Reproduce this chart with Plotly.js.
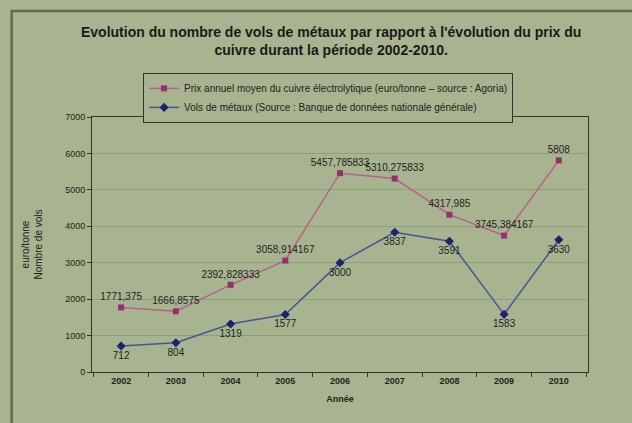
<!DOCTYPE html>
<html><head><meta charset="utf-8">
<script src="https://cdn.plot.ly/plotly-3.0.1.min.js"></script>
<style>html,body{margin:0;padding:0;background:#a7b48f;}#chart{width:632px;height:423px;}</style>
</head><body><div id="chart"></div>
<script>
const years = ['2002','2003','2004','2005','2006','2007','2008','2009','2010'];
const prixCuivre = [1771.375, 1666.8575, 2392.828333, 3058.914167, 5457.785833, 5310.275833, 4317.985, 3745.384167, 5808];
const prixLabels = ['1771,375','1666,8575','2392,828333','3058,914167','5457,785833','5310,275833','4317,985','3745,384167','5808'];
const vols = [712, 804, 1319, 1577, 3000, 3837, 3591, 1583, 3630];
const volsLabels = ['712','804','1319','1577','3000','3837','3591','1583','3630'];
const yTicks = [0,1000,2000,3000,4000,5000,6000,7000];

const font = '"Liberation Sans", Arial, sans-serif';
const traces = [
  {x: years, y: prixCuivre, type:'scatter', mode:'lines+markers+text',
   name:'Prix annuel moyen du cuivre électrolytique (euro/tonne – source : Agoria)',
   text: prixLabels, textposition:'top center', textfont:{family:font,size:10,color:'#222'},
   line:{color:'#b8608e', width:1.5}, marker:{symbol:'square', size:6, color:'#962f6c'}, cliponaxis:false},
  {x: years, y: vols, type:'scatter', mode:'lines+markers+text',
   name:'Vols de métaux (Source : Banque de données nationale générale)',
   text: volsLabels, textposition:'bottom center', textfont:{family:font,size:10,color:'#222'},
   line:{color:'#4a5294', width:1.5}, marker:{symbol:'diamond', size:7, color:'#1c226e'}, cliponaxis:false}
];
const layout = {
  width:632, height:423,
  margin:{l:92, r:44, t:117, b:51},
  paper_bgcolor:'#a7b48f', plot_bgcolor:'#a7b48f',
  font:{family:font, color:'#222'},
  title:{text:'<b>Evolution du nombre de vols de métaux par rapport à l\'évolution du prix du<br>cuivre durant la période 2002-2010.</b>',
         font:{family:font, size:14, color:'#1a1a1a'}, x:0.524, xanchor:'center', y:0.912, yanchor:'middle'},
  showlegend:true,
  legend:{x:0.103, y:1.173, xanchor:'left', yanchor:'top', bgcolor:'#a7b48f', bordercolor:'#333', borderwidth:1,
          font:{family:font, size:10, color:'#222'}, tracegroupgap:0, itemwidth:30},
  xaxis:{type:'category', tickmode:'array', tickvals:years, ticktext:years.map(y=>'<b>'+y+'</b>'),
         tickson:'boundaries', ticks:'outside', ticklen:4, tickcolor:'#333',
         showline:true, linecolor:'#333', linewidth:1, showgrid:false, mirror:true,
         tickfont:{family:font, size:9, color:'#222'},
         title:{text:'<b>Année</b>', font:{family:font, size:9, color:'#222'}, standoff:10}},
  yaxis:{range:[0,7000], tickmode:'array', tickvals:yTicks, ticks:'outside', ticklen:4, tickcolor:'#333',
         showline:true, linecolor:'#333', linewidth:1, mirror:true,
         showgrid:true, gridcolor:'#8f9e7a', gridwidth:1, zeroline:false,
         tickfont:{family:font, size:9, color:'#222'},
         title:{text:'euro/tonne<br>Nombre de vols', font:{family:font, size:10, color:'#222'}, standoff:20}},
  shapes:[{type:'rect', xref:'paper', yref:'paper', x0:-0.162, x1:1.3, y0:-0.4, y1:1.416,
           line:{color:'#5e6a54', width:2.5}, fillcolor:'rgba(0,0,0,0)', layer:'below'}]
};
Plotly.newPlot('chart', traces, layout, {displayModeBar:false, staticPlot:true});
</script></body></html>
